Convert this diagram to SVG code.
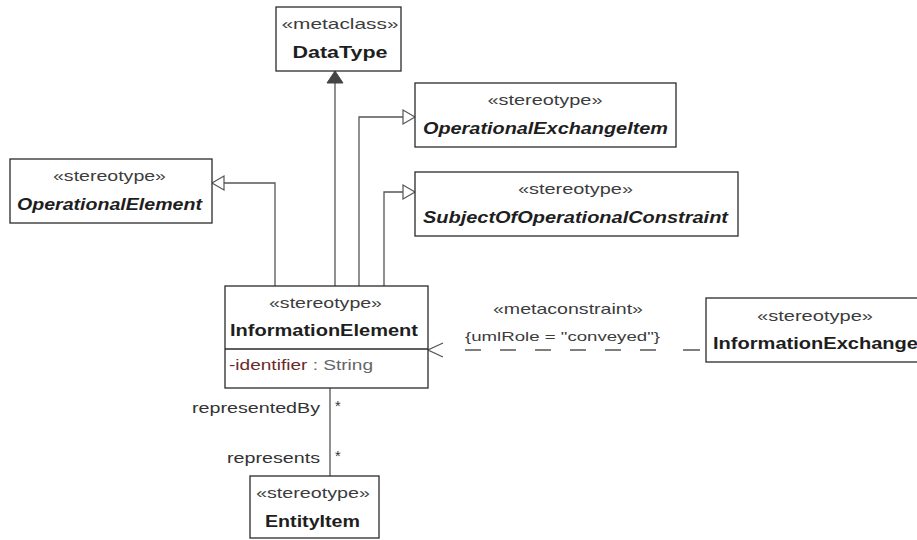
<svg xmlns="http://www.w3.org/2000/svg" width="917" height="540" viewBox="0 0 917 540">
<style>
text{font-family:"Liberation Sans",Arial,sans-serif;}
.box{fill:#fff;stroke:#2a2a2a;stroke-width:1.3;}
.st{font-size:14.5px;fill:#3c3c3c;text-anchor:middle;}
.nm{font-size:16px;font-weight:bold;fill:#1e1e1e;text-anchor:middle;}
.it{font-style:italic;}
.ln{fill:none;stroke:#555;stroke-width:1.3;}
.lbl{font-size:14.5px;fill:#333;}
</style>
<g id="connectors">
<path class="ln" d="M335,286 V83"/>
<path d="M335,71 L327,83 L343,83 Z" fill="#444" stroke="#444" stroke-width="1"/>
<path class="ln" d="M359,286 V117 H403"/>
<path d="M415,117 L403,110 L403,124 Z" fill="#fff" stroke="#555" stroke-width="1.2"/>
<path class="ln" d="M384,286 V192 H403"/>
<path d="M415,192 L403,185 L403,199 Z" fill="#fff" stroke="#555" stroke-width="1.2"/>
<path class="ln" d="M275,286 V183 H224"/>
<path d="M212,183 L224,176 L224,190 Z" fill="#fff" stroke="#555" stroke-width="1.2"/>
<path class="ln" d="M330,388 V476"/>
<path class="ln" d="M443,343 L428,350 L443,357"/>
<path class="ln" d="M465,350h16M500,350h16M535,350h16M570,350h16M605,350h16M640,350h16M683,350h17"/>
<text class="st" x="568" y="314" textLength="150" lengthAdjust="spacingAndGlyphs">«metaconstraint»</text>
<text class="st" x="562.5" y="341" style="font-size:13.5px" textLength="195" lengthAdjust="spacingAndGlyphs">{umlRole = "conveyed"}</text>
<text class="lbl" x="320" y="413" text-anchor="end" textLength="128" lengthAdjust="spacingAndGlyphs">representedBy</text>
<text class="lbl" x="335" y="411">*</text>
<text class="lbl" x="320" y="463" text-anchor="end" textLength="93" lengthAdjust="spacingAndGlyphs">represents</text>
<text class="lbl" x="335" y="461">*</text>
</g>
<g id="DataType">
<rect class="box" x="276" y="7" width="125" height="64"/>
<text class="st" x="340" y="29" textLength="117" lengthAdjust="spacingAndGlyphs">«metaclass»</text>
<text class="nm" x="340" y="58" textLength="95" lengthAdjust="spacingAndGlyphs">DataType</text>
</g>
<g id="OperationalExchangeItem">
<rect class="box" x="415" y="83" width="261" height="64"/>
<text class="st" x="545" y="105" textLength="115" lengthAdjust="spacingAndGlyphs">«stereotype»</text>
<text class="nm it" x="545.5" y="134" textLength="245" lengthAdjust="spacingAndGlyphs">OperationalExchangeItem</text>
</g>
<g id="SubjectOfOperationalConstraint">
<rect class="box" x="415" y="172" width="323" height="64"/>
<text class="st" x="575.5" y="194" textLength="115" lengthAdjust="spacingAndGlyphs">«stereotype»</text>
<text class="nm it" x="575.5" y="223" textLength="305" lengthAdjust="spacingAndGlyphs">SubjectOfOperationalConstraint</text>
</g>
<g id="OperationalElement">
<rect class="box" x="10" y="159" width="202" height="64"/>
<text class="st" x="109.5" y="181" textLength="113" lengthAdjust="spacingAndGlyphs">«stereotype»</text>
<text class="nm it" x="109.5" y="210" textLength="185" lengthAdjust="spacingAndGlyphs">OperationalElement</text>
</g>
<g id="InformationElement">
<rect class="box" x="225" y="286" width="203" height="102"/>
<line x1="225" y1="349" x2="428" y2="349" stroke="#2a2a2a" stroke-width="1.3"/>
<text class="st" x="325.5" y="308" textLength="113" lengthAdjust="spacingAndGlyphs">«stereotype»</text>
<text class="nm" x="324" y="336" textLength="188" lengthAdjust="spacingAndGlyphs">InformationElement</text>
<text x="229" y="370" font-size="14.5" textLength="144" lengthAdjust="spacingAndGlyphs"><tspan fill="#6b2b2b">-identifier</tspan><tspan fill="#666"> : String</tspan></text>
</g>
<g id="InformationExchange">
<rect class="box" x="706" y="298" width="218" height="64"/>
<text class="st" x="815" y="321" textLength="116" lengthAdjust="spacingAndGlyphs">«stereotype»</text>
<text class="nm" x="713" y="349" style="text-anchor:start" textLength="205" lengthAdjust="spacingAndGlyphs">InformationExchange</text>
</g>
<g id="EntityItem">
<rect class="box" x="250" y="476" width="129" height="62"/>
<text class="st" x="313" y="498" textLength="114" lengthAdjust="spacingAndGlyphs">«stereotype»</text>
<text class="nm" x="312.5" y="527" textLength="95" lengthAdjust="spacingAndGlyphs">EntityItem</text>
</g>
</svg>
